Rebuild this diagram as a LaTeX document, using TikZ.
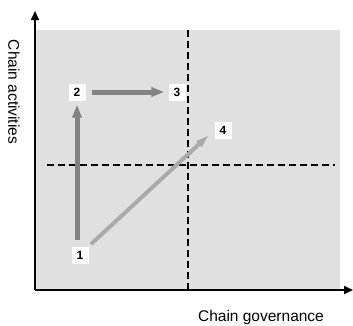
\documentclass[tikz,border=0pt]{standalone}
\usepackage{fontspec}
\setmainfont{Liberation Sans}
\usetikzlibrary{arrows.meta, positioning}
\definecolor{cPanel}{RGB}{224,224,224}
\definecolor{cShaft}{RGB}{130,130,130}
\definecolor{cShaftLight}{RGB}{170,170,170}
\tikzset{
	axis/.style     ={-{Triangle[length=9pt, width=8pt]}, line width=1.8pt, black},
	divider/.style  ={dashed, dash pattern=on 7pt off 4pt, line width=1.3pt, black},
	stage/.style    ={rectangle, fill=white, minimum size=17pt, inner sep=1pt, font=\bfseries\fontsize{12}{14}\selectfont},
	move/.style     ={-{Triangle[length=13pt, width=9pt]}, line width=5pt, cShaft, shorten <=6pt, shorten >=4pt},
	movelight/.style={-{Triangle[length=14pt, width=7pt]}, line width=4pt, cShaftLight, shorten <=3pt, shorten >=7pt},
	axlabel/.style  ={font=\fontsize{15.5}{18}\selectfont},
}
\begin{document}
\begin{tikzpicture}[x=1pt, y=1pt]
	\useasboundingbox (0,0) rectangle (353,325);
	\fill[cPanel] (35,35) rectangle (340,295);
	% axes
	\coordinate (o) at (35,35);
	\coordinate (ytip) at (35,314);
	\coordinate (xtip) at (353,35);
	\draw[axis] (o) -- (ytip);
	\draw[axis] (o) -- (xtip);
	% quadrant dividers
	\draw[divider] (188,35) -- (188,295);
	\draw[divider] (47,160) -- (335,160);
	% stages
	\node[stage] (n1) at (80,70) {1};
	\node[stage] (n2) at (77,233) {2};
	\node[stage] (n3) at (177,233) {3};
	\node[stage] (n4) at (223,195) {4};
	\draw[move] (n2 |- n1.north) -- (n2);
	\draw[move] (n2) -- (n3);
	\draw[movelight] (n1.north east) -- (n4.west);
	% axis labels
	\node[axlabel, rotate=-90] (ylab) at (14,233) {Chain activities};
	\node[axlabel] (xlab) at (261,8) {Chain governance};
\end{tikzpicture}
\end{document}
